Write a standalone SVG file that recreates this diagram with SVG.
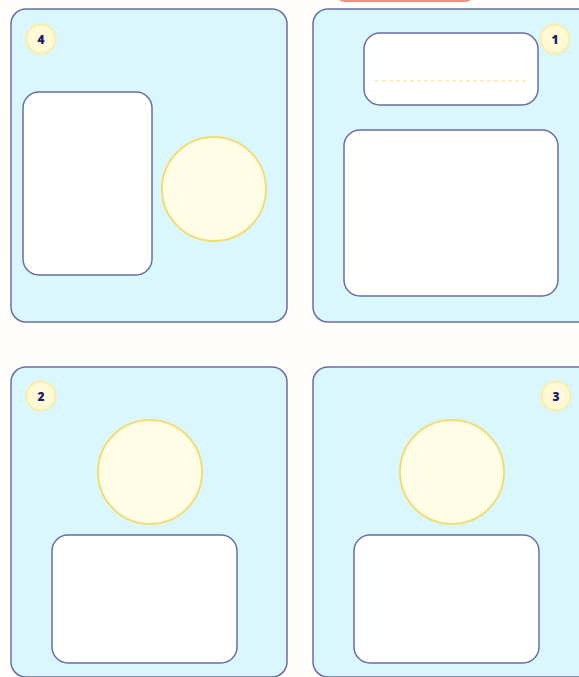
<svg xmlns="http://www.w3.org/2000/svg" width="579" height="677" viewBox="0 0 579 677">
<style>
.panel{fill:#d9f7fd;stroke:#6a6ea6;stroke-width:1.5}
.box{fill:#ffffff;stroke:#6a6ea6;stroke-width:1.5}
.sun{fill:#fffde6;stroke:#f4dc74;stroke-width:2}
.badge{fill:#fff9d6;stroke:#faeea6;stroke-width:2}
.num{font-family:"Open Sans","DejaVu Sans",sans-serif;font-weight:800;font-size:12px;fill:#1b2068;text-anchor:middle}
.dash{stroke:#f6e08a;stroke-width:1;stroke-dasharray:4 3;fill:none}
</style>
<rect width="579" height="677" fill="#fffefc"/>
<rect x="335" y="-20" width="140" height="22" rx="10" fill="#f0907e"/>
<g id="panel4">
<rect class="panel" x="11" y="9" width="276" height="313" rx="15"/>
<circle class="badge" cx="41" cy="39" r="14.5"/>
<text class="num" x="41" y="43.5">4</text>
<rect class="box" x="23" y="92" width="129" height="183" rx="16"/>
<circle class="sun" cx="214" cy="189" r="52"/>
</g>
<g id="panel1">
<rect class="panel" x="313" y="9" width="280" height="313" rx="15"/>
<circle class="badge" cx="555" cy="39" r="14.5"/>
<text class="num" x="555" y="43.5">1</text>
<rect class="box" x="364" y="33" width="174" height="72" rx="16"/>
<line class="dash" x1="375" y1="81" x2="528" y2="81"/>
<rect class="box" x="344" y="130" width="214" height="166" rx="16"/>
</g>
<g id="panel2">
<rect class="panel" x="11" y="367" width="276" height="310" rx="15"/>
<circle class="badge" cx="41" cy="396" r="14.5"/>
<text class="num" x="41" y="400.5">2</text>
<circle class="sun" cx="150" cy="472" r="52"/>
<rect class="box" x="52" y="535" width="185" height="128" rx="16"/>
</g>
<g id="panel3">
<rect class="panel" x="313" y="367" width="280" height="310" rx="15"/>
<circle class="badge" cx="556" cy="396" r="14.5"/>
<text class="num" x="556" y="400.5">3</text>
<circle class="sun" cx="452" cy="472" r="52"/>
<rect class="box" x="354" y="535" width="185" height="128" rx="16"/>
</g>
<g id="connectors"/>
</svg>
